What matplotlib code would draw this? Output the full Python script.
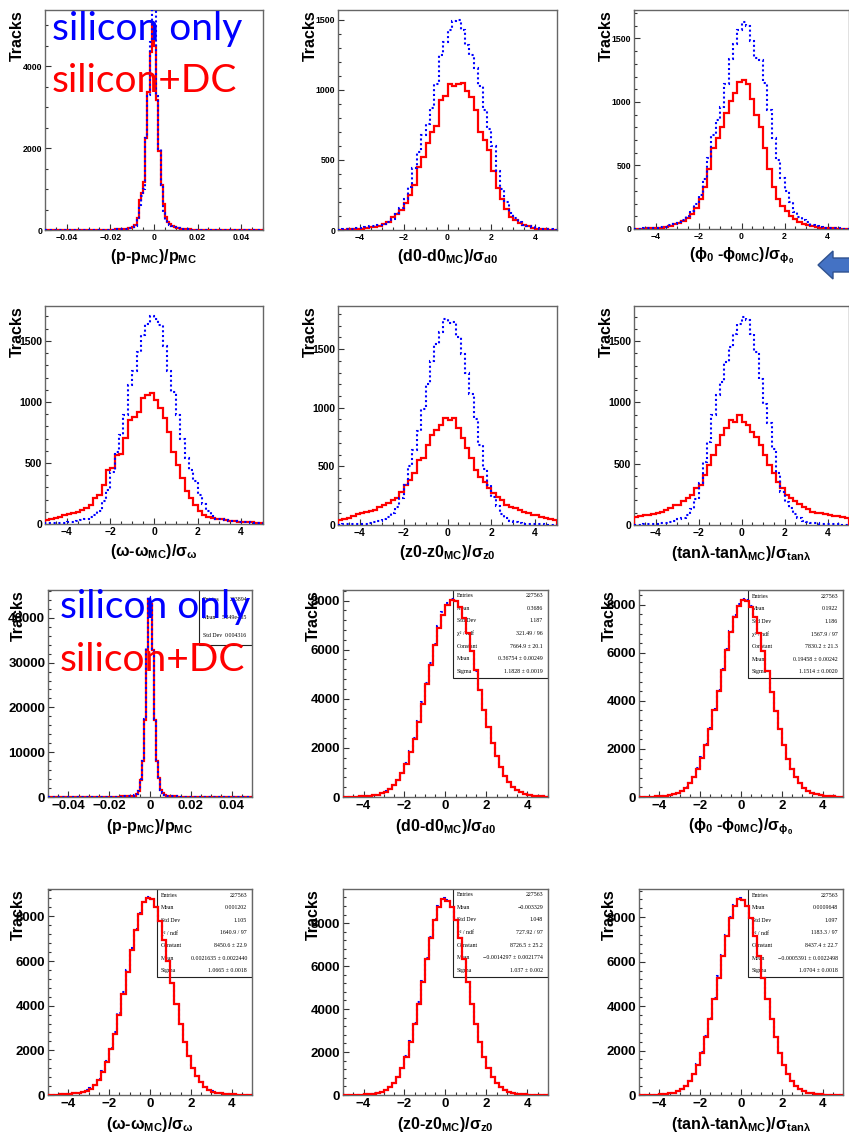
import numpy as np
import matplotlib
matplotlib.use("Agg")
import matplotlib.pyplot as plt
from matplotlib.patches import Polygon, Rectangle

W, H = 849, 1135

plt.rcParams['font.family'] = ['Liberation Sans', 'DejaVu Sans']
plt.rcParams['font.weight'] = 'bold'
plt.rcParams['mathtext.fontset'] = 'custom'
plt.rcParams['mathtext.rm'] = 'Liberation Sans:bold'
plt.rcParams['mathtext.it'] = 'Liberation Sans:bold'
plt.rcParams['mathtext.bf'] = 'Liberation Sans:bold'

# ---------------- data ----------------
p_edges = np.linspace(-0.05, 0.05, 101)
s_edges = np.linspace(-5, 5, 51)

# upper block: silicon only (blue) vs silicon+DC (red)
p_sil_top = [0, 0, 0, 0, 0, 0, 0, 0, 0, 0, 0, 0, 0, 0, 0, 2, 0, 0, 2, 0,
             2, 3, 4, 3, 5, 5, 7, 6, 9, 10, 11, 12, 14, 16, 19, 22, 27, 34, 42, 55,
             65, 90, 250, 600, 820, 1000, 2250, 3300, 4600, 5600,
             5600, 3270, 1970, 1090, 420, 250, 160, 120, 90, 70,
             55, 45, 35, 28, 22, 18, 15, 12, 10, 9, 8, 7, 6, 5, 4, 4, 3, 3, 2, 2,
             2, 1, 1, 1, 1, 0, 1, 0, 0, 0, 0, 0, 0, 0, 0, 0, 0, 0, 0, 0]
p_dc_top = [0, 0, 0, 0, 0, 0, 0, 0, 0, 0, 0, 0, 0, 0, 2, 0, 0, 3, 0, 2,
            3, 4, 3, 5, 4, 6, 5, 8, 7, 10, 10, 12, 14, 15, 18, 22, 26, 32, 40, 55,
            70, 120, 300, 725, 900, 1170, 2250, 3380, 4350, 5050,
            4500, 3180, 1930, 1090, 645, 320, 200, 140, 100, 70,
            55, 42, 33, 26, 21, 17, 14, 12, 10, 9, 8, 7, 6, 5, 5, 4, 3, 3, 2, 2,
            2, 2, 1, 1, 0, 1, 0, 0, 1, 0, 0, 0, 0, 0, 0, 0, 0, 0, 0, 0]

d0_sil_top = [0, 5, 8, 10, 12, 15, 20, 25, 30, 35, 45, 60, 80, 120, 160, 220, 310, 440, 560, 680,
              760, 870, 1040, 1250, 1340, 1430, 1490, 1500, 1430, 1320, 1250, 1160, 1030, 860, 720,
              600, 420, 290, 200, 120, 85, 55, 38, 28, 20, 15, 10, 6, 4, 2]
d0_dc_top = [0, 2, 4, 5, 8, 10, 14, 18, 22, 28, 40, 55, 90, 115, 140, 190, 250, 320, 450, 520,
             620, 700, 740, 930, 955, 1040, 1030, 1040, 1050, 990, 950, 860, 700, 645, 570,
             420, 300, 220, 150, 95, 70, 50, 35, 25, 15, 10, 7, 4, 3, 1]

phi_sil_top = [2, 3, 4, 5, 7, 9, 12, 18, 28, 40, 52, 72, 100, 140, 200, 270, 390, 560, 740, 860,
               960, 1140, 1340, 1460, 1570, 1630, 1600, 1480, 1350, 1330, 1150, 940, 720, 540, 400,
               300, 210, 130, 95, 70, 55, 35, 22, 16, 11, 8, 6, 4, 3, 2]
phi_dc_top = [1, 2, 3, 4, 6, 8, 11, 16, 24, 36, 48, 65, 87, 120, 165, 240, 330, 470, 640, 720,
              800, 910, 1010, 1070, 1160, 1170, 1140, 1020, 900, 800, 640, 470, 330, 240, 180,
              140, 100, 75, 55, 40, 30, 22, 14, 10, 7, 5, 4, 3, 2, 1]

om_sil_top = [5, 6, 8, 9, 11, 13, 16, 22, 30, 42, 55, 76, 103, 185, 280, 430, 590, 730, 890, 1140,
              1250, 1410, 1550, 1640, 1705, 1680, 1630, 1460, 1250, 1080, 890, 700, 540, 440, 350,
              240, 160, 105, 65, 45, 38, 32, 27, 22, 18, 15, 13, 11, 9, 8]
om_dc_top = [33, 40, 49, 60, 76, 82, 90, 100, 112, 131, 158, 212, 240, 321, 444, 457, 566, 570, 702, 852,
             879, 920, 1029, 1056, 1070, 1015, 947, 866, 757, 593, 485, 376, 267, 212, 158,
             103, 76, 57, 49, 43, 40, 33, 27, 24, 20, 18, 16, 14, 12, 10]

z0_sil_top = [4, 5, 6, 6, 7, 8, 10, 14, 22, 35, 50, 70, 100, 150, 230, 340, 500, 640, 800, 990,
              1200, 1400, 1540, 1650, 1760, 1720, 1730, 1600, 1460, 1300, 1120, 900, 680, 480, 340,
              240, 160, 95, 60, 38, 26, 18, 12, 9, 7, 6, 5, 4, 4, 3]
z0_dc_top = [43, 50, 57, 75, 91, 100, 114, 120, 128, 157, 171, 185, 213, 228, 285, 342, 384, 441, 555, 569,
             683, 768, 811, 854, 911, 897, 911, 825, 740, 655, 569, 470, 413, 370, 313,
             270, 242, 213, 171, 157, 142, 128, 114, 100, 85, 85, 71, 57, 48, 43]

tl_sil_top = [3, 4, 5, 7, 10, 12, 15, 19, 26, 35, 45, 60, 81, 130, 210, 340, 510, 680, 900, 1060,
              1170, 1330, 1450, 1560, 1640, 1700, 1670, 1560, 1410, 1190, 990, 830, 620, 420, 270,
              190, 135, 90, 55, 35, 25, 18, 14, 11, 9, 8, 6, 5, 4, 3]
tl_dc_top = [68, 75, 81, 85, 87, 98, 109, 120, 136, 163, 163, 195, 217, 244, 298, 326, 407, 488, 570, 651,
             732, 787, 855, 841, 900, 841, 814, 760, 719, 651, 570, 488, 421, 353, 298,
             244, 217, 195, 168, 149, 130, 109, 100, 95, 87, 81, 76, 73, 62, 54]

# lower block
p_sil_bot = [0, 0, 0, 0, 0, 10, 0, 0, 10, 0, 10, 0, 10, 10, 0, 10, 10, 20, 10, 20,
             10, 12, 15, 18, 20, 25, 30, 38, 45, 52, 60, 70, 80, 90, 100, 110, 120, 140, 160, 180,
             200, 250, 340, 620, 1300, 3950, 8100, 17500, 33200, 44600,
             43300, 33000, 17300, 8000, 4250, 1650, 810, 455, 300, 220,
             180, 150, 130, 110, 95, 85, 75, 65, 55, 50, 45, 40, 35, 30, 28, 25, 20, 18, 15, 12,
             10, 10, 8, 8, 5, 5, 5, 3, 3, 2, 2, 2, 1, 1, 1, 0, 1, 0, 0, 0]
p_dc_bot = [0, 0, 0, 0, 0, 10, 0, 0, 10, 0, 10, 0, 10, 10, 0, 10, 10, 20, 10, 20,
            10, 12, 15, 18, 20, 25, 30, 38, 45, 52, 60, 70, 80, 90, 100, 110, 120, 140, 160, 180,
            200, 250, 330, 600, 1260, 3870, 7950, 17250, 32860, 44160,
            43000, 32860, 17250, 7950, 4240, 1640, 800, 450, 300, 220,
            180, 150, 130, 110, 95, 85, 75, 65, 55, 50, 45, 40, 35, 30, 28, 25, 20, 18, 15, 12,
            10, 10, 8, 8, 5, 5, 5, 3, 3, 2, 2, 2, 1, 1, 1, 0, 1, 0, 0, 0]

d0_sil_bot = [6, 9, 13, 18, 25, 33, 47, 68, 100, 150, 225, 330, 485, 700, 990, 1380, 1860, 2420, 3110, 3850,
              4650, 5470, 6250, 6950, 7520, 7900, 8060, 8000, 7740, 7280, 6660, 5940, 5150, 4340, 3560,
              2850, 2210, 1670, 1225, 870, 605, 420, 285, 192, 127, 85, 58, 40, 28, 20]
d0_dc_bot = [5, 8, 12, 16, 22, 30, 44, 64, 95, 143, 216, 318, 469, 676, 963, 1340, 1814, 2375, 3050, 3788,
             4582, 5393, 6171, 6869, 7431, 7824, 8009, 7977, 7728, 7279, 6669, 5947, 5152, 4342, 3555,
             2841, 2207, 1661, 1220, 867, 602, 417, 283, 191, 126, 84, 58, 40, 28, 20]

phi_sil_bot = [5, 8, 13, 18, 25, 35, 50, 76, 115, 176, 268, 400, 590, 850, 1210, 1660, 2220, 2890, 3650, 4470,
               5320, 6150, 6900, 7560, 8010, 8230, 8190, 7930, 7480, 6840, 6070, 5240, 4380, 3560, 2815,
               2160, 1600, 1158, 813, 565, 382, 255, 166, 109, 72, 48, 32, 23, 17, 12]
phi_dc_bot = [5, 8, 12, 17, 23, 33, 48, 73, 111, 170, 260, 389, 575, 828, 1181, 1624, 2181, 2845, 3600, 4420,
              5273, 6109, 6863, 7495, 7938, 8175, 8167, 7921, 7470, 6831, 6068, 5232, 4379, 3559, 2813,
              2157, 1599, 1156, 812, 564, 381, 254, 166, 109, 72, 48, 32, 23, 17, 12]

om_sil_bot = [10, 15, 20, 26, 37, 52, 74, 100, 142, 205, 305, 460, 700, 1060, 1510, 2120, 2830, 3690, 4620, 5610,
              6580, 7450, 8170, 8660, 8860, 8770, 8400, 7770, 6955, 6010, 5020, 4055, 3160, 2382, 1736,
              1222, 833, 567, 376, 243, 157, 103, 70, 51, 39, 30, 22, 18, 14, 10]
om_dc_bot = [10, 15, 20, 25, 35, 50, 70, 95, 135, 195, 290, 440, 673, 1017, 1456, 2053, 2752, 3602, 4530, 5522,
             6496, 7381, 8115, 8620, 8840, 8762, 8399, 7770, 6956, 6009, 5018, 4053, 3159, 2381, 1735,
             1221, 832, 566, 375, 242, 156, 103, 70, 51, 39, 30, 22, 18, 14, 10]

z0_sil_bot = [6, 8, 11, 15, 20, 26, 38, 59, 90, 143, 230, 362, 565, 855, 1270, 1815, 2520, 3350, 4310, 5330,
              6380, 7360, 8200, 8820, 9160, 9080, 8760, 8150, 7310, 6325, 5265, 4245, 3287, 2465, 1771,
              1235, 829, 546, 350, 222, 137, 86, 56, 36, 25, 19, 14, 11, 8, 6]
z0_dc_bot = [6, 8, 11, 14, 19, 25, 36, 56, 86, 137, 222, 350, 547, 830, 1236, 1772, 2466, 3289, 4248, 5271,
             6331, 7317, 8158, 8770, 9120, 9050, 8770, 8158, 7317, 6331, 5271, 4248, 3289, 2466, 1772,
             1236, 830, 547, 350, 222, 137, 86, 56, 36, 25, 19, 14, 11, 8, 6]

tl_sil_bot = [6, 8, 11, 15, 21, 31, 46, 72, 111, 175, 275, 425, 650, 965, 1405, 1950, 2640, 3460, 4380, 5350,
              6320, 7220, 7990, 8560, 8850, 8790, 8500, 7940, 7170, 6260, 5280, 4310, 3400, 2588, 1907,
              1360, 933, 630, 414, 268, 169, 107, 69, 44, 30, 21, 15, 11, 8, 6]
tl_dc_bot = [6, 8, 11, 15, 21, 30, 44, 69, 107, 169, 268, 414, 631, 934, 1361, 1908, 2589, 3401, 4311, 5283,
             6264, 7174, 7943, 8504, 8798, 8780, 8504, 7943, 7174, 6264, 5283, 4311, 3401, 2589, 1908,
             1361, 934, 631, 414, 268, 169, 107, 69, 44, 30, 21, 15, 11, 8, 6]

p_ticks = [-0.04, -0.02, 0, 0.02, 0.04]
p_ticklabels = ['\u22120.04', '\u22120.02', '0', '0.02', '0.04']
s_ticks = [-4, -2, 0, 2, 4]
s_ticklabels = ['\u22124', '\u22122', '0', '2', '4']

lbl_p = r'(p-p$_{MC}$)/p$_{MC}$'
lbl_d0 = r'(d0-d0$_{MC}$)/σ$_{d0}$'
lbl_phi = r'($\phi_0$ -$\phi_{0MC}$)/σ$_{\phi_0}$'
lbl_om = r'(ω-ω$_{MC}$)/σ$_{ω}$'
lbl_z0 = r'(z0-z0$_{MC}$)/σ$_{z0}$'
lbl_tl = r'(tanλ-tanλ$_{MC}$)/σ$_{tanλ}$'

stats_p = [("Entries", "223894"), ("Mean", "5.849e\u221205"), ("Std Dev", "0.004316")]
stats_d0 = [("Entries", "227563"), ("Mean", "0.3686"), ("Std Dev", "1.187"), ("χ² / ndf", "321.49 / 96"),
            ("Constant", "7664.9 ± 20.1"), ("Mean", "0.36754 ± 0.00249"), ("Sigma", "1.1828 ± 0.0019")]
stats_phi = [("Entries", "227563"), ("Mean", "0.1922"), ("Std Dev", "1.186"), ("χ² / ndf", "1567.9 / 97"),
             ("Constant", "7830.2 ± 21.3"), ("Mean", "0.19458 ± 0.00242"), ("Sigma", "1.1514 ± 0.0020")]
stats_om = [("Entries", "227563"), ("Mean", "0.001202"), ("Std Dev", "1.105"), ("χ² / ndf", "1640.9 / 97"),
            ("Constant", "8450.6 ± 22.9"), ("Mean", "0.0021635 ± 0.0022440"), ("Sigma", "1.0665 ± 0.0018")]
stats_z0 = [("Entries", "227563"), ("Mean", "\u22120.003329"), ("Std Dev", "1.048"), ("χ² / ndf", "727.92 / 97"),
            ("Constant", "8726.5 ± 25.2"), ("Mean", "\u22120.0014297 ± 0.0021774"), ("Sigma", "1.037 ± 0.002")]
stats_tl = [("Entries", "227563"), ("Mean", "0.0009648"), ("Std Dev", "1.097"), ("χ² / ndf", "1183.3 / 97"),
            ("Constant", "8437.4 ± 22.7"), ("Mean", "\u22120.0005391 ± 0.0022498"), ("Sigma", "1.0704 ± 0.0018")]

# (box px: left, top, right, bottom), edges, blue, red, xticks kind, ymax, yticks, yminor, xlabel, stats, stats box, row
panels = [
    ((45, 10, 263, 230), p_edges, p_sil_top, p_dc_top, 'p', 5370, [0, 2000, 4000], 500, lbl_p, None, None, 0),
    ((338, 10, 557, 230), s_edges, d0_sil_top, d0_dc_top, 's', 1571, [0, 500, 1000, 1500], 100, lbl_d0, None, None, 0),
    ((634, 10, 849, 229), s_edges, phi_sil_top, phi_dc_top, 's', 1724, [0, 500, 1000, 1500], 100, lbl_phi, None, None, 0),
    ((45, 306, 263, 524), s_edges, om_sil_top, om_dc_top, 's', 1786, [0, 500, 1000, 1500], 100, lbl_om, None, None, 1),
    ((338, 306, 557, 525), s_edges, z0_sil_top, z0_dc_top, 's', 1868, [0, 500, 1000, 1500], 100, lbl_z0, None, None, 1),
    ((634, 306, 849, 525), s_edges, tl_sil_top, tl_dc_top, 's', 1786, [0, 500, 1000, 1500], 100, lbl_tl, None, None, 1),
    ((48, 590, 252, 797), p_edges, p_sil_bot, p_dc_bot, 'p', 46200, [0, 10000, 20000, 30000, 40000], 2000, lbl_p,
     stats_p, (199, 590, 252, 645), 2),
    ((343, 590, 548, 797), s_edges, d0_sil_bot, d0_dc_bot, 's', 8430, [0, 2000, 4000, 6000, 8000], 400, lbl_d0,
     stats_d0, (453, 589, 548, 678), 2),
    ((639, 590, 843, 797), s_edges, phi_sil_bot, phi_dc_bot, 's', 8610, [0, 2000, 4000, 6000, 8000], 400, lbl_phi,
     stats_phi, (748, 590, 843, 678), 2),
    ((48, 889, 252, 1095), s_edges, om_sil_bot, om_dc_bot, 's', 9224, [0, 2000, 4000, 6000, 8000], 400, lbl_om,
     stats_om, (157, 889, 252, 977), 3),
    ((343, 889, 548, 1095), s_edges, z0_sil_bot, z0_dc_bot, 's', 9590, [0, 2000, 4000, 6000, 8000], 400, lbl_z0,
     stats_z0, (453, 888, 548, 977), 3),
    ((639, 889, 843, 1095), s_edges, tl_sil_bot, tl_dc_bot, 's', 9270, [0, 2000, 4000, 6000, 8000], 400, lbl_tl,
     stats_tl, (748, 889, 843, 977), 3),
]

tick_fs = [6.3, 7.5, 9.5, 9.5]
label_gap = [27, 28, 30, 29]
ylab_gap = [28, 28, 30, 30]

fig = plt.figure(figsize=(W / 100, H / 100), dpi=100)


def fig_rect(box):
    l, t, r, b = box
    return [l / W, 1 - b / H, (r - l) / W, (b - t) / H]


for box, edges, sil, dc, kind, ymax, yticks, yminor, xlabel, stats, sbox, row in panels:
    ax = fig.add_axes(fig_rect(box))
    # in the fitted lower panels the red histogram sits on top of the blue one
    red_on_top = row >= 2 and kind == 's'
    ax.stairs(dc, edges, color='#ff0000', lw=1.6, zorder=5 if red_on_top else 3)
    ax.stairs(sil, edges, color='#0000ff', lw=1.5, linestyle=(0, (1, 1.3)), zorder=4)
    ax.set_xlim(edges[0], edges[-1])
    ax.set_ylim(0, ymax)

    if kind == 'p':
        ax.set_xticks(p_ticks)
        ax.set_xticklabels(p_ticklabels)
        ax.set_xticks(np.arange(-0.05, 0.0501, 0.005), minor=True)
    else:
        ax.set_xticks(s_ticks)
        ax.set_xticklabels(s_ticklabels)
        ax.set_xticks(np.arange(-5, 5.01, 0.5), minor=True)
    ax.set_yticks(yticks)
    ax.set_yticks(np.arange(0, ymax, yminor), minor=True)

    fs = tick_fs[row]
    ax.tick_params(which='both', direction='in', top=False, right=False, color='#333333', width=0.8)
    ax.tick_params(which='major', length=4, labelsize=fs, pad=2)
    ax.tick_params(which='minor', length=2)
    for sp in ax.spines.values():
        sp.set_color('#666666')
        sp.set_linewidth(1.0)

    l, t, r, b = box
    ax.text(0.5, -label_gap[row] / (b - t), xlabel, transform=ax.transAxes, ha='center', va='center',
            fontsize=11.5, fontweight='bold')
    ax.text(-ylab_gap[row] / (r - l), 1.0, 'Tracks', transform=ax.transAxes, rotation=90,
            ha='center', va='top', fontsize=11.5, fontweight='bold')

    if stats is not None:
        sl, st, sr, sb = sbox
        ax.add_patch(Rectangle((sl / W, 1 - sb / H), (sr - sl) / W, (sb - st) / H, transform=fig.transFigure,
                               facecolor='white', edgecolor='#222222', lw=0.8, zorder=2))
        step = (sb - st) / len(stats)
        for i, (name, val) in enumerate(stats):
            yy = 1 - (st + (i + 0.5) * step) / H
            ax.text((sl + 4) / W, yy, name, transform=fig.transFigure, ha='left', va='center',
                    fontsize=4.2, family=['Liberation Serif', 'DejaVu Serif'], fontweight='normal', zorder=2.5)
            ax.text((sr - 5) / W, yy, val, transform=fig.transFigure, ha='right', va='center',
                    fontsize=4.2, family=['Liberation Serif', 'DejaVu Serif'], fontweight='normal', zorder=2.5)

# slide annotations
for x0, y0, txt, col in [(52, 40, 'silicon only', '#0000ff'), (52, 92, 'silicon+DC', '#ff0000'),
                         (60, 618, 'silicon only', '#0000ff'), (60, 671, 'silicon+DC', '#ff0000')]:
    fig.text(x0 / W, 1 - y0 / H, txt, color=col, fontsize=28, family=['Lato', 'DejaVu Sans'],
             fontweight='normal', ha='left', va='baseline', zorder=10)

arrow_px = [(818, 265), (833, 251), (833, 258), (852, 258), (852, 272), (833, 272), (833, 279)]
fig.add_artist(Polygon([(x / W, 1 - y / H) for x, y in arrow_px], closed=True, transform=fig.transFigure,
                       facecolor='#4472c4', edgecolor='#2f528f', lw=1.0, zorder=10))

fig.savefig('out.png', dpi=100)
